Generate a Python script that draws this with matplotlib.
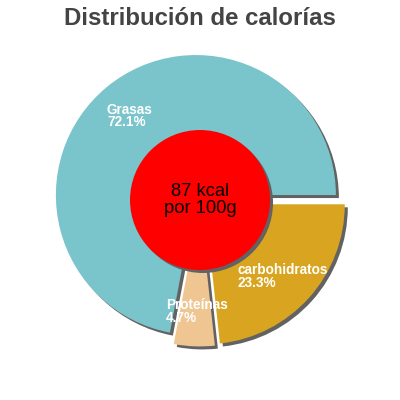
import matplotlib
matplotlib.use("Agg")
import matplotlib.pyplot as plt
import matplotlib.patches as mpatches
import matplotlib.transforms as mtransforms

# Calorie split per nutrient
nutrients = ["Grasas", "Proteínas", "carbohidratos"]
percents = [72.1, 4.7, 23.3]
slice_colors = ["#7ac4cc", "#efc591", "#d9a520"]
energy_label = "87 kcal\npor 100g"
title = "Distribución de calorías"

# label anchors (upper-left corner, data units)
label_pos = [(-0.665, 0.695), (-0.245, -0.70), (0.265, -0.45)]

SHADOW = "#626262"

plt.rcParams["font.family"] = ["Liberation Sans", "DejaVu Sans"]

fig = plt.figure(figsize=(4, 4), dpi=100)
ax = fig.add_axes([0, 0, 1, 1])
lim = 200 / 140

wedges, _ = ax.pie(percents, colors=slice_colors, startangle=0,
                   counterclock=True, explode=[0.046] * len(percents),
                   radius=1.0, wedgeprops={"linewidth": 0, "zorder": 3})
ax.set_xlim(-lim, lim)
ax.set_ylim(-lim, lim)
ax.set_aspect("equal")
ax.axis("off")

# drop shadows, shifted 3px right / 3px down
shift = mtransforms.offset_copy(ax.transData, fig=fig, x=3, y=-3,
                                units="dots")
for w in wedges:
    ax.add_patch(mpatches.Wedge(w.center, w.r, w.theta1, w.theta2,
                                facecolor=SHADOW, edgecolor="none",
                                transform=shift, zorder=2))

circle = mpatches.Circle((0, 0), 0.5, facecolor="#ff0000", edgecolor="none",
                         zorder=5)
ax.add_patch(mpatches.Circle((0, 0), 0.5, facecolor=SHADOW,
                             edgecolor="none", transform=shift, zorder=4))
ax.add_patch(circle)
ax.text(0, 0, energy_label, ha="center", va="center", fontsize=13.2,
        color="black", linespacing=1.0, zorder=6)

for name, pct, (x, y) in zip(nutrients, percents, label_pos):
    ax.text(x, y, f"{name}\n{pct}%", ha="left", va="top", fontsize=9.8,
            fontweight="bold", color="white", linespacing=0.88, zorder=7)

fig.text(0.5, 0.953, title, ha="center", va="center", fontsize=17.3,
         fontweight="bold", color="#444444")

fig.savefig("out.png", dpi=100)
